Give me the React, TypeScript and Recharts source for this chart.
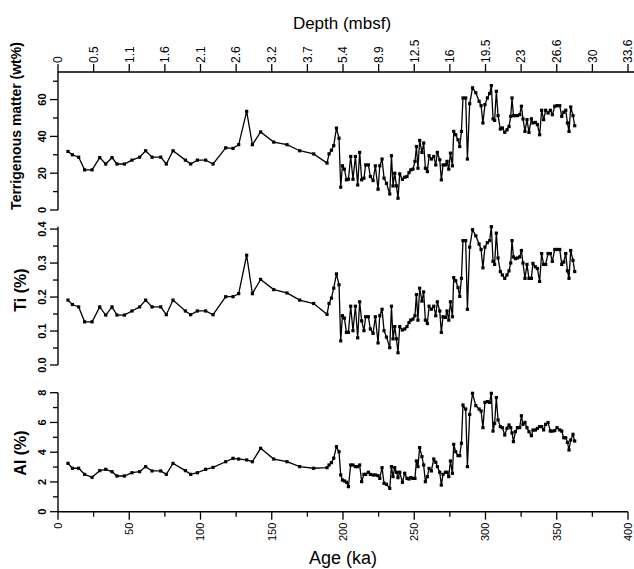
import React from 'react';
import { LineChart, Line, XAxis, YAxis } from 'recharts';

const ages = [
  7, 10.1, 14.5, 18.7, 23.9, 29.3, 33.5, 37.9, 41.4, 46.6,
  51.9, 57.3, 61.5, 66, 72.1, 76, 80.7, 89.4, 93.1, 97.8,
  103.6, 108.8, 117.7, 122.8, 126.8, 132.4, 136.4, 142.2, 151.4, 160.7,
  169.6, 179.4,
  188.8, 190.2, 191.9, 193.5, 195.4, 197.2,
  198.4, 199.6, 201, 202.4, 203.8, 205.4, 207, 208.7, 210.3, 211.7,
  213.1, 214.7, 215.9, 217.8, 219.2, 221.1, 222.7, 224.6, 225.8, 227.4,
  228.8, 230.5, 232.8, 234, 235.1, 236.3, 237.5, 238.6, 239.8, 241.7,
  243.3, 244.9, 246.3, 247.5, 249.1, 250.5, 251.5, 252.6, 253.8, 255.4,
  256.6, 257.8, 259.2, 260.4, 262, 263.7, 265.1, 266.2, 267.9, 269,
  270.2, 271.9, 273, 274.2, 275.4, 276.8, 277.7, 279.1, 280.7, 281.9,
  283.1, 284.2, 286.1, 287.3, 288.9, 290.9, 293.2, 295.5, 296.9, 298.2,
  299.6, 301.3, 302.9, 304.1, 305.3, 306.4, 307.6, 308.8, 310.4, 311.8,
  313.5, 315.1, 316.5, 317.7, 318.6, 319.6, 321, 322.4, 324, 325.2,
  326.3, 327.7, 329.1, 330.5, 332.2, 333.3, 335, 336.4, 338, 339.4,
  340.8, 342.2, 343.9, 345.5, 346.9, 348.6, 350.2, 352.1, 353.5, 354.9,
  356.3, 357.5, 358.6, 359.8, 361.4, 362.6,
];

const terrigenous = [
  31.8, 30, 28.7, 21.8, 21.8, 28.5, 25, 28.5, 25, 25,
  27.1, 28.7, 32.2, 28.7, 28.7, 25, 32.2, 27.1, 25, 27.1,
  27.1, 25, 33.8, 33.5, 35.5, 53.6, 35.5, 42.4, 36.9, 35.5,
  32.2, 30.5,
  25.5, 30.5, 32.5, 35, 44.5, 39,
  12.4, 24, 22.2, 16.4, 16.7, 29.1, 16.7, 29.1, 13.6, 31.3,
  16.4, 17.3, 24.5, 24.5, 18.2, 16, 24, 11.3, 24, 27.7,
  17.3, 14.5, 8.7, 29.5, 13.1, 20, 13.1, 6.4, 19.6, 16.7,
  17.8, 18.2, 20.3, 21.8, 22.2, 26.4, 34.5, 22.7, 37.8, 31.3,
  36.4, 22.7, 20.9, 29.5, 27.7, 29.1, 24.5, 31.3, 27.3, 16.4,
  24.5, 24.5, 26.4, 22.2, 30.9, 24, 42.7, 40.9, 38.2, 34.5,
  42.7, 60.9, 60.9, 27.7, 57.8, 66.4, 63.7, 59.1, 56.7, 47.3,
  57.3, 60.9, 63.3, 67.6, 49.5, 48.7, 64.5, 51.3, 44, 44.6,
  42.2, 43.6, 45.4, 50.9, 60.9, 51.3, 51.3, 51.3, 51.8, 56.4,
  49.5, 42.7, 49.1, 42.2, 49.5, 47.3, 47.6, 46.4, 40.9, 54.2,
  49.1, 54.2, 52.7, 54.2, 51.8, 56.4, 56.7, 56.7, 50.9, 53.1,
  54.2, 47.3, 42.7, 56, 51.3, 45.8,
];

const titanium = [
  0.191, 0.178, 0.171, 0.127, 0.127, 0.171, 0.147, 0.171, 0.147, 0.147,
  0.159, 0.171, 0.191, 0.171, 0.171, 0.148, 0.191, 0.159, 0.148, 0.159,
  0.159, 0.148, 0.201, 0.201, 0.21, 0.323, 0.21, 0.252, 0.222, 0.212,
  0.191, 0.181,
  0.149, 0.181, 0.197, 0.226, 0.268, 0.236,
  0.071, 0.145, 0.138, 0.096, 0.096, 0.173, 0.101, 0.173, 0.08, 0.186,
  0.13, 0.101, 0.142, 0.142, 0.106, 0.093, 0.142, 0.065, 0.145, 0.164,
  0.101, 0.082, 0.051, 0.173, 0.077, 0.113, 0.077, 0.036, 0.113, 0.103,
  0.106, 0.113, 0.125, 0.132, 0.135, 0.145, 0.207, 0.132, 0.226, 0.188,
  0.215, 0.132, 0.122, 0.173, 0.164, 0.173, 0.145, 0.186, 0.159, 0.096,
  0.142, 0.14, 0.159, 0.132, 0.186, 0.142, 0.257, 0.248, 0.228, 0.202,
  0.255, 0.366, 0.366, 0.164, 0.347, 0.398, 0.38, 0.356, 0.34, 0.286,
  0.347, 0.36, 0.366, 0.407, 0.305, 0.296, 0.388, 0.315, 0.275, 0.265,
  0.255, 0.265, 0.277, 0.3, 0.366, 0.318, 0.313, 0.315, 0.318, 0.337,
  0.3, 0.255, 0.296, 0.255, 0.255, 0.299, 0.289, 0.284, 0.246, 0.328,
  0.296, 0.296, 0.328, 0.328, 0.305, 0.34, 0.34, 0.34, 0.296, 0.303,
  0.328, 0.277, 0.255, 0.337, 0.308, 0.275,
];

const aluminium = [
  3.25, 2.92, 2.92, 2.51, 2.31, 2.76, 2.85, 2.69, 2.4, 2.4,
  2.62, 2.69, 3.03, 2.74, 2.74, 2.51, 3.25, 2.76, 2.51, 2.62,
  2.85, 2.98, 3.36, 3.59, 3.54, 3.48, 3.36, 4.26, 3.54, 3.36,
  3.03, 2.92,
  2.96, 3.14, 3.3, 3.6, 4.37, 4.03,
  2.47, 2.13, 2.07, 1.98, 1.69, 3.14, 3.14, 3.03, 3.03, 3.14,
  2.02, 2.51, 2.51, 2.65, 2.51, 2.47, 2.47, 2.42, 2.24, 2.96,
  1.91, 1.84, 1.57, 3.03, 2.36, 2.96, 2.65, 2.29, 2.65, 1.98,
  2.58, 2.24, 2.2, 2.29, 2.24, 2.24, 3.41, 3.03, 4.31, 3.7,
  3.14, 2.02, 2.36, 2.91, 2.74, 3.54, 3.32, 3.03, 2.65, 1.79,
  2.51, 2.65, 2.65, 2.36, 3.41, 2.58, 4.53, 4.03, 3.77, 3.77,
  4.6, 7.17, 6.9, 3.03, 6.54, 7.96, 7.13, 6.9, 6.77, 5.65,
  7.35, 7.4, 7.35, 7.96, 5.42, 5.94, 7.67, 6.17, 5.72, 5.65,
  5.16, 5.61, 5.83, 5.65, 5.3, 4.71, 5.38, 5.65, 5.65, 6.45,
  5.87, 6.0, 5.65, 5.38, 5.11, 5.49, 5.49, 5.6, 5.72, 5.72,
  5.5, 5.87, 6.0, 5.42, 5.42, 5.45, 5.65, 5.5, 5.42, 4.97,
  4.97, 4.66, 4.15, 4.82, 5.2, 4.75,
];

const ageTicks = [0, 25, 50, 75, 100, 125, 150, 175, 200, 225, 250, 275, 300, 325, 350, 375, 400];
const ageTickLabels = ['0', '', '50', '', '100', '', '150', '', '200', '', '250', '', '300', '', '350', '', '400'];
const depthTickLabels = ['0', '0.5', '1.1', '1.6', '2.1', '2.6', '3.2', '3.7', '5.4', '8.9', '12.5', '16', '19.5', '23', '26.6', '30', '33.6'];

const terrTicks = [0, 10, 20, 30, 40, 50, 60, 70];
const terrTickLabels = ['0', '', '20', '', '40', '', '60', ''];
const tiTicks = [0, 0.05, 0.1, 0.15, 0.2, 0.25, 0.3, 0.35, 0.4];
const tiTickLabels = ['0.0', '', '0.1', '', '0.2', '', '0.3', '', '0.4'];
const alTicks = [0, 1, 2, 3, 4, 5, 6, 7, 8];
const alTickLabels = ['0', '', '2', '', '4', '', '6', '', '8'];

const data = ages.map((age, i) => ({ age, terr: terrigenous[i], ti: titanium[i], al: aluminium[i] }));

const FONT = '"Liberation Sans", Arial, Helvetica, sans-serif';
const W = 634;

function TopTick(props: any) {
  const { x, y, payload } = props;
  const i = ageTicks.indexOf(payload.value);
  const ty = y - 9;
  return (
    <g>
      <line x1={x} y1={y} x2={x} y2={y - 8} stroke="#000" strokeWidth={1.3} />
      <text x={x} y={ty} transform={`rotate(-90, ${x}, ${ty})`} textAnchor="start" dy="0.36em"
        fontSize={12} fontFamily={FONT} fill="#000">{depthTickLabels[i]}</text>
    </g>
  );
}

function BottomTick(props: any) {
  const { x, y, payload } = props;
  const i = ageTicks.indexOf(payload.value);
  const lab = ageTickLabels[i];
  const major = lab !== '';
  const ty = y + 11;
  return (
    <g>
      <line x1={x} y1={y} x2={x} y2={y + (major ? 8 : 5)} stroke="#000" strokeWidth={1.3} />
      {major && (
        <text x={x} y={ty} transform={`rotate(-90, ${x}, ${ty})`} textAnchor="end" dy="0.36em"
          fontSize={11} fontFamily={FONT} fill="#000">{lab}</text>
      )}
    </g>
  );
}

function makeYTick(ticks: number[], labels: string[]) {
  return function YTick(props: any) {
    const { x, y, payload } = props;
    const i = ticks.indexOf(payload.value);
    const lab = labels[i];
    const major = lab !== '' && lab !== undefined;
    const tx = x - 16;
    return (
      <g>
        <line x1={x} y1={y} x2={x - (major ? 8 : 5)} y2={y} stroke="#000" strokeWidth={1.3} />
        {major && (
          <text x={tx} y={y} transform={`rotate(-90, ${tx}, ${y})`} textAnchor="middle" dy="0.36em"
            fontSize={11} fontWeight="bold" fontFamily={FONT} fill="#000">{lab}</text>
        )}
      </g>
    );
  };
}

const TerrTick = makeYTick(terrTicks, terrTickLabels);
const TiTick = makeYTick(tiTicks, tiTickLabels);
const AlTick = makeYTick(alTicks, alTickLabels);

const renderDot = (p: any) => (
  <rect key={`d${p.index}`} x={p.cx - 1.6} y={p.cy - 1.6} width={3.2} height={3.2} fill="#000" />
);

const axisLine = { stroke: '#000', strokeWidth: 1.4 };

export default function App() {
  return (
    <div style={{ position: 'absolute', left: 0, top: 0, width: W, height: 569, background: '#fff' }}>
      {/* Terrigenous matter */}
      <div style={{ position: 'absolute', left: 0, top: 0 }}>
        <LineChart width={W} height={220} data={data} margin={{ top: 0, right: 0, bottom: 10, left: 0 }}>
          <XAxis dataKey="age" type="number" orientation="top" domain={[0, 404.2]} ticks={ageTicks}
            interval={0} height={72} tickSize={0} tickMargin={0} tick={<TopTick />} axisLine={axisLine} tickLine={false} />
          <YAxis type="number" domain={[0, 75]} ticks={terrTicks} interval={0} width={58}
            tickSize={0} tickMargin={0} tick={<TerrTick />} axisLine={axisLine} tickLine={false} allowDataOverflow />
          <Line dataKey="terr" stroke="#000" strokeWidth={1.3} dot={renderDot} isAnimationActive={false} />
        </LineChart>
      </div>
      {/* Ti */}
      <div style={{ position: 'absolute', left: 0, top: 215 }}>
        <LineChart width={W} height={170} data={data} margin={{ top: 11.7, right: 6, bottom: 20, left: 0 }}>
          <XAxis dataKey="age" type="number" domain={[0, 400]} hide />
          <YAxis type="number" domain={[0, 0.4]} ticks={tiTicks} interval={0} width={58}
            tickSize={0} tickMargin={0} tick={<TiTick />} axisLine={axisLine} tickLine={false} allowDataOverflow={false} />
          <Line dataKey="ti" stroke="#000" strokeWidth={1.3} dot={renderDot} isAnimationActive={false} />
        </LineChart>
      </div>
      {/* Al */}
      <div style={{ position: 'absolute', left: 0, top: 380 }}>
        <LineChart width={W} height={189} data={data} margin={{ top: 12.7, right: 6, bottom: 0, left: 0 }}>
          <XAxis dataKey="age" type="number" domain={[0, 400]} ticks={ageTicks} interval={0} height={57.3}
            tickSize={0} tickMargin={0} tick={<BottomTick />} axisLine={axisLine} tickLine={false} />
          <YAxis type="number" domain={[0, 8]} ticks={alTicks} interval={0} width={58}
            tickSize={0} tickMargin={0} tick={<AlTick />} axisLine={axisLine} tickLine={false} />
          <Line dataKey="al" stroke="#000" strokeWidth={1.3} dot={renderDot} isAnimationActive={false} />
        </LineChart>
      </div>
      {/* Titles */}
      <svg width={W} height={569} style={{ position: 'absolute', left: 0, top: 0, pointerEvents: 'none' }}>
        <text x={342} y={23} textAnchor="middle" dominantBaseline="central" fontSize={17} fontFamily={FONT} fill="#000">Depth (mbsf)</text>
        <text x={343} y={558} textAnchor="middle" dominantBaseline="central" fontSize={18} fontFamily={FONT} fill="#000">Age (ka)</text>
        <text x={16} y={126} transform="rotate(-90, 16, 126)" textAnchor="middle" dominantBaseline="central" fontSize={14} fontWeight="bold" fontFamily={FONT} fill="#000">Terrigenous matter (wt%)</text>
        <text x={20} y={290} transform="rotate(-90, 20, 290)" textAnchor="middle" dominantBaseline="central" fontSize={16} fontWeight="bold" fontFamily={FONT} fill="#000">Ti (%)</text>
        <text x={20} y={453} transform="rotate(-90, 20, 453)" textAnchor="middle" dominantBaseline="central" fontSize={16} fontWeight="bold" fontFamily={FONT} fill="#000">Al (%)</text>
      </svg>
    </div>
  );
}
